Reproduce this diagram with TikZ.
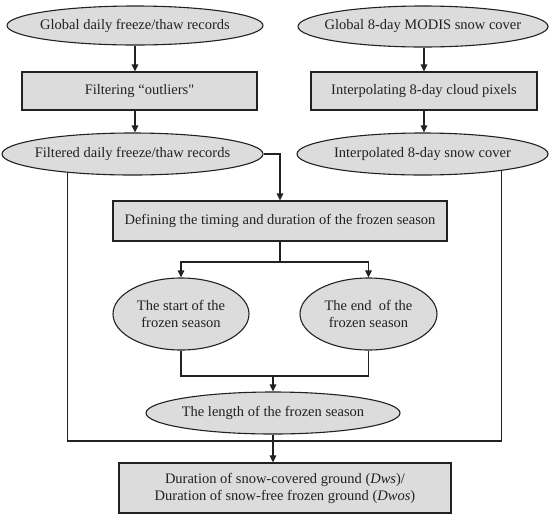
\documentclass[tikz,border=0pt]{standalone}
\usepackage{fontspec}
\setmainfont{Liberation Serif}
\newfontfamily\rawfont{Liberation Serif}[Ligatures=ResetAll]
\usetikzlibrary{shapes.geometric,arrows.meta}
\definecolor{boxgray}{HTML}{DCDCDC}
\definecolor{inkc}{HTML}{222222}
\begin{document}
\begin{tikzpicture}[x=1pt,y=-1pt,
  txt/.style={font=\fontsize{14.5}{17}\selectfont,align=center,text=inkc},
  oval/.style={ellipse,draw=inkc,fill=boxgray,line width=1.1pt,inner sep=0pt},
  rect/.style={rectangle,draw=inkc,fill=boxgray,line width=1.1pt,inner sep=0pt,txt},
  conn/.style={draw=inkc,line width=1.3pt},
  arr/.style={conn,-{Triangle[length=7pt,width=6.5pt]}}]
\useasboundingbox (0,0) rectangle (549,515);
% nodes
\node[oval,minimum width=256pt,minimum height=39pt,label={[txt]center:Global daily freeze/thaw records}] (e1) at (135,25.5) {};
\node[rect,minimum width=235pt,minimum height=38pt] (b1) at (139.5,91) {Filtering “outliers{\rawfont"}};
\node[oval,minimum width=261pt,minimum height=42pt,label={[txt]center:Filtered daily freeze/thaw records}] (e3) at (132.5,154) {};
\node[oval,minimum width=250pt,minimum height=41pt,label={[txt]center:Global 8-day MODIS snow cover}] (e2) at (423,26.5) {};
\node[rect,minimum width=226pt,minimum height=38pt] (b2) at (424,91) {Interpolating 8-day cloud pixels};
\node[oval,minimum width=251pt,minimum height=42pt,label={[txt]center:Interpolated 8-day snow cover}] (e4) at (422.5,154) {};
\node[rect,minimum width=334pt,minimum height=40pt] (b3) at (280,221) {Defining the timing and duration of the frozen season};
\node[oval,minimum width=136pt,minimum height=72pt,label={[txt]center:The start of the\\frozen season}] (e5) at (181,314) {};
\node[oval,minimum width=137pt,minimum height=72pt,label={[txt]center:The end~ of the\\frozen season}] (e6) at (368.5,314) {};
\node[oval,minimum width=254pt,minimum height=42pt,label={[txt]center:The length of the frozen season}] (e7) at (273,413) {};
\node[rect,minimum width=332pt,minimum height=50pt] (b4) at (285,488) {Duration of snow-covered ground (\textit{Dws})/\\Duration of snow-free frozen ground (\textit{Dwos})};
% junction points
\coordinate (jl) at (68,441);
\coordinate (jr) at (498,441);
\coordinate (sp) at (280,262);
\coordinate (mg) at (273,376);
% connectors
\draw[arr] (e1.south) -- (e1.south |- b1.north);
\draw[arr] (e1.south |- b1.south) -- (e1.south |- e3.north);
\draw[arr] (e2.south -| b2.north) -- (b2.north);
\draw[arr] (b2.south) -- (b2.south |- e4.north);
\draw[arr] (e3.east) -| (b3.north);
\draw[conn] (e3.196) |- (jl) -- (jr) -| (e4.-12.5);
\draw[conn] (b3.south) -- (sp);
\draw[arr] (sp) -| (e5.north);
\draw[arr] (sp) -| (e6.north);
\draw[conn] (e5.south) |- (mg) -| (e6.south);
\draw[arr] (mg) -- (e7.north);
\draw[arr] (e7.south) -- (e7.south |- b4.north);
\end{tikzpicture}
\end{document}
